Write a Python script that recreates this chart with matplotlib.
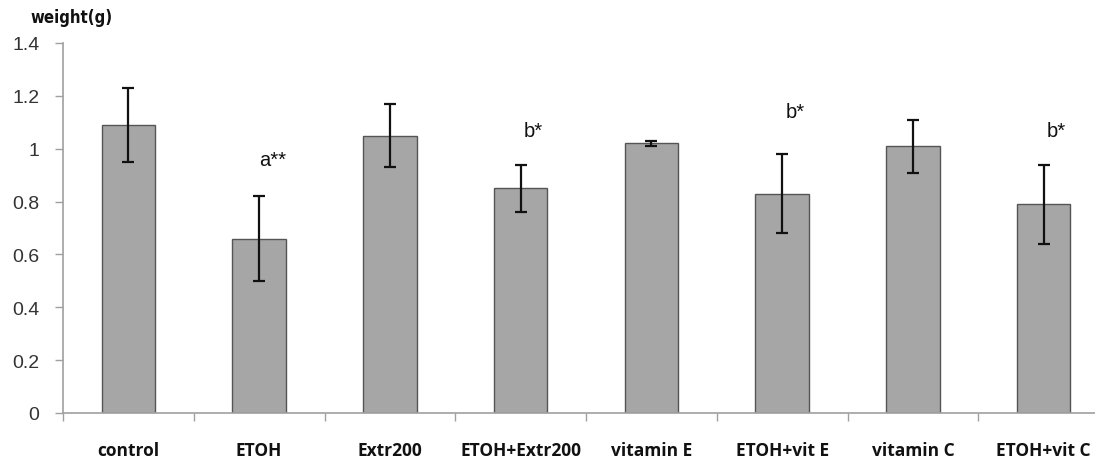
import matplotlib
matplotlib.use("Agg")
import matplotlib.pyplot as plt
import numpy as np

categories = ["control", "ETOH", "Extr200", "ETOH+Extr200", "vitamin E", "ETOH+vit E", "vitamin C", "ETOH+vit C"]
means = [1.09, 0.66, 1.05, 0.85, 1.02, 0.83, 1.01, 0.79]
errors = [0.14, 0.16, 0.12, 0.09, 0.01, 0.15, 0.10, 0.15]
annotations = ["", "a**", "", "b*", "", "b*", "", "b*"]
annot_y = [None, 0.96, None, 1.07, None, 1.14, None, 1.07]
yticks = [0, 0.2, 0.4, 0.6, 0.8, 1, 1.2, 1.4]
ytick_labels = ["0", "0.2", "0.4", "0.6", "0.8", "1", "1.2", "1.4"]

fig = plt.figure(figsize=(10.95, 4.6), dpi=100)
ax = fig.add_axes([63/1095, 46/460, 1046/1095, 370/460])

x = np.arange(len(categories))
ax.bar(x, means, width=0.41, color="#a6a6a6", edgecolor="#555555", linewidth=1.0, zorder=2)
ax.errorbar(x, means, yerr=errors, fmt="none", ecolor="#111111", elinewidth=1.6,
            capsize=4.5, capthick=1.6, zorder=3)

for xi, t, yy in zip(x, annotations, annot_y):
    if t:
        ax.text(xi + 0.1, yy, t, ha="center", va="center", fontsize=14.5,
                family="Liberation Sans", color="#111111")

ax.set_xlim(-0.5, 7.5)
ax.set_ylim(0, 1.4)
ax.set_yticks(yticks)
ax.set_yticklabels(ytick_labels, fontsize=14, family="Liberation Sans", color="#333333")
ax.tick_params(axis="y", direction="out", length=6, width=1, color="#a0a0a0", pad=11)

ax.set_xticks(x)
ax.set_xticklabels(categories, fontsize=12.5, family="Open Sans", fontweight="bold", color="#111111")
ax.tick_params(axis="x", which="major", length=0, pad=20)
ax.set_xticks(np.arange(-0.5, 8.0, 1.0), minor=True)
ax.tick_params(axis="x", which="minor", direction="out", length=6, width=1, color="#a0a0a0")

for s in ["top", "right"]:
    ax.spines[s].set_visible(False)
for s in ["left", "bottom"]:
    ax.spines[s].set_color("#a0a0a0")
    ax.spines[s].set_linewidth(1.2)

fig.text(72/1095, 1 - 18/460, "weight(g)", ha="center", va="center", fontsize=12,
         fontweight="bold", family="DejaVu Sans", fontstretch="condensed", color="#111111")

fig.savefig("out.png", dpi=100)
